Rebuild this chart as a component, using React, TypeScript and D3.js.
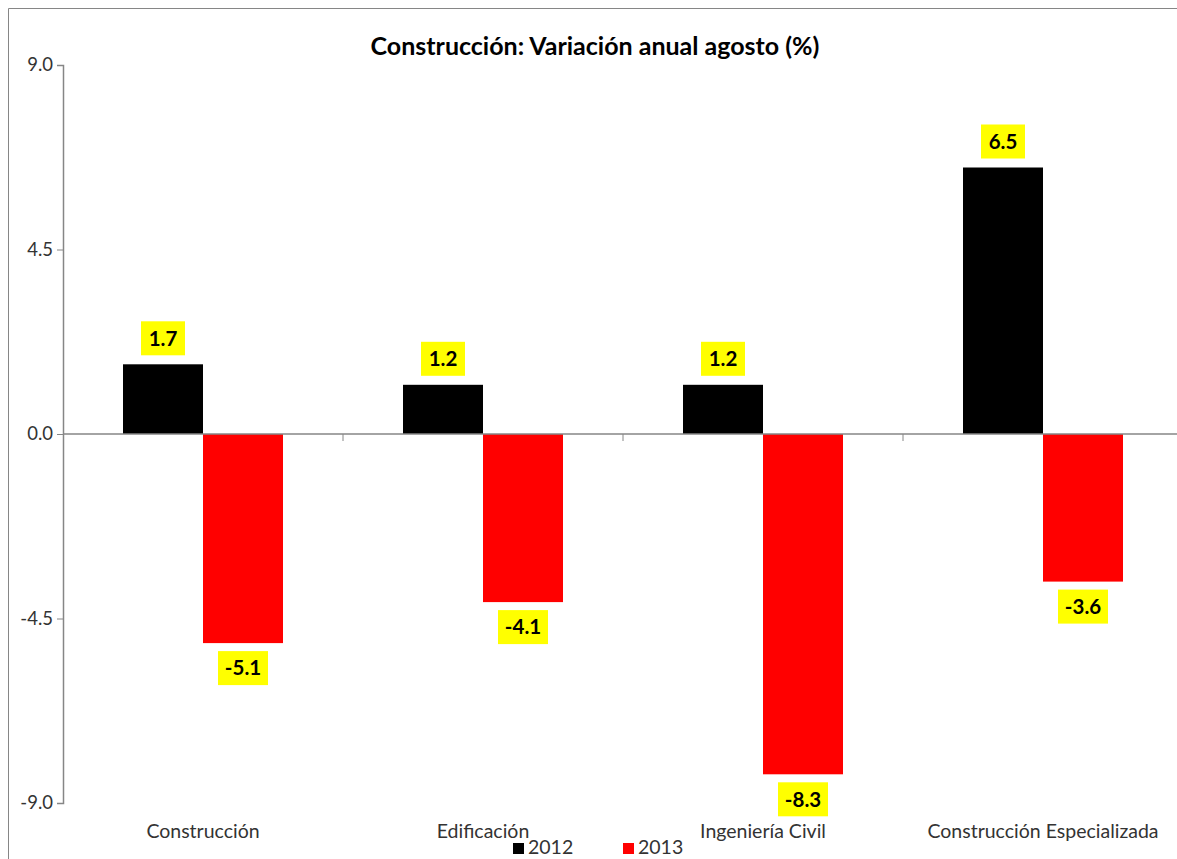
import { useEffect, useRef } from 'react';
import * as d3 from 'd3';

const categories = ['Construcción', 'Edificación', 'Ingeniería Civil', 'Construcción Especializada'];
const series2012 = [1.7, 1.2, 1.2, 6.5];
const series2013 = [-5.1, -4.1, -8.3, -3.6];
const seriesNames = ['2012', '2013'];
const seriesColors = ['#000000', '#ff0000'];
const yTicks = [9, 4.5, 0, -4.5, -9];

const FONT = 'Lato, "Open Sans", sans-serif';

// hyphen minus, like the original
const fmt = (v: number) => v.toFixed(1);

if (typeof document !== 'undefined') {
  document.body.style.margin = '0';
  document.body.style.overflow = 'hidden';
}

export default function App() {
  const svgRef = useRef<SVGSVGElement>(null);

  useEffect(() => {
    if (!svgRef.current) return;
    const svg = d3.select(svgRef.current);
    svg.selectAll('*').remove();

    const width = 1177;
    const height = 859;
    // plot area
    const left = 63;
    const right = 1183;
    const top = 65;
    const bottom = 803;

    svg.attr('width', width).attr('height', height);

    svg.append('rect')
      .attr('width', width).attr('height', height)
      .attr('fill', '#fff');

    // chart border (only top and left are inside the window)
    svg.append('path')
      .attr('d', `M8.5,${height}V8.5H${width}`)
      .attr('fill', 'none')
      .attr('stroke', '#868686');

    const x = d3.scaleBand<string>().domain(categories).range([left, right]);
    const inner = d3.scaleBand<string>()
      .domain(seriesNames)
      .range([0, x.bandwidth()])
      .paddingInner(0)
      .paddingOuter(0.75);
    const y = d3.scaleLinear().domain([-9, 9]).range([bottom, top]);

    const rows = categories.map((c, i) => ({ cat: c, values: [series2012[i], series2013[i]] }));

    // y axis
    const yAxis = svg.append('g')
      .attr('transform', `translate(${left},0)`)
      .call(d3.axisLeft(y).tickValues(yTicks).tickSize(6).tickFormat(d => fmt(+d)));
    yAxis.select('.domain').attr('stroke', '#868686').attr('stroke-width', 1.5);
    yAxis.selectAll('.tick line').attr('stroke', '#868686');
    yAxis.selectAll('.tick text')
      .attr('x', -10)
      .attr('font-family', FONT)
      .attr('font-size', 18.5)
      .attr('fill', '#333');

    // bars
    const groups = svg.append('g').selectAll('g')
      .data(rows)
      .join('g')
      .attr('transform', d => `translate(${x(d.cat)},0)`);

    groups.selectAll('rect')
      .data(d => d.values.map((v, i) => ({ name: seriesNames[i], v, i })))
      .join('rect')
      .attr('x', d => inner(d.name)!)
      .attr('width', inner.bandwidth())
      .attr('y', d => y(Math.max(0, d.v)))
      .attr('height', d => Math.abs(y(d.v) - y(0)))
      .attr('fill', d => seriesColors[d.i]);

    // x axis at zero
    const xAxis = svg.append('g')
      .attr('transform', `translate(0,${y(0)})`);
    xAxis.append('line')
      .attr('x1', left).attr('x2', right)
      .attr('stroke', '#868686').attr('stroke-width', 1.5);
    xAxis.selectAll('line.tk')
      .data(categories.slice(1))
      .join('line')
      .attr('class', 'tk')
      .attr('x1', d => x(d)!).attr('x2', d => x(d)!)
      .attr('y1', 0).attr('y2', 7)
      .attr('stroke', '#868686');

    // category labels at bottom
    svg.append('g').selectAll('text')
      .data(categories)
      .join('text')
      .attr('x', d => x(d)! + x.bandwidth() / 2)
      .attr('y', bottom + 35)
      .attr('text-anchor', 'middle')
      .attr('font-family', FONT)
      .attr('font-size', 19.5)
      .attr('fill', '#333')
      .text(d => d);

    // value labels
    const labels = groups.selectAll('g.lbl')
      .data(d => d.values.map((v, i) => ({ name: seriesNames[i], v })))
      .join('g')
      .attr('class', 'lbl')
      .attr('transform', d => {
        const cx = inner(d.name)! + inner.bandwidth() / 2;
        const cy = d.v >= 0 ? y(d.v) - 26 : y(d.v) + 25;
        return `translate(${cx},${cy})`;
      });
    labels.append('rect')
      .attr('x', d => (d.v < 0 ? -25 : -22))
      .attr('width', d => (d.v < 0 ? 50 : 44))
      .attr('y', -17)
      .attr('height', 34)
      .attr('fill', '#ffff00');
    labels.append('text')
      .attr('text-anchor', 'middle')
      .attr('dy', '0.36em')
      .attr('font-family', FONT)
      .attr('font-size', 20.5)
      .attr('font-weight', 'bold')
      .attr('fill', '#000')
      .text(d => fmt(d.v));

    // title
    svg.append('text')
      .attr('x', 595)
      .attr('y', 55)
      .attr('text-anchor', 'middle')
      .attr('font-family', FONT)
      .attr('font-size', 25)
      .attr('font-weight', 'bold')
      .attr('fill', '#000')
      .text('Construcción: Variación anual agosto (%)');

    // legend
    const legend = svg.append('g').attr('transform', `translate(513,${bottom + 51})`);
    const items = legend.selectAll('g')
      .data(seriesNames)
      .join('g')
      .attr('transform', (_, i) => `translate(${i * 110},0)`);
    items.append('rect')
      .attr('x', 0).attr('y', -11)
      .attr('width', 11).attr('height', 11)
      .attr('fill', (_, i) => seriesColors[i]);
    items.append('text')
      .attr('x', 15)
      .attr('y', 0)
      .attr('font-family', FONT)
      .attr('font-size', 19.5)
      .attr('fill', '#333')
      .text(d => d);
  }, []);

  return <svg ref={svgRef} style={{ display: 'block' }} />;
}
